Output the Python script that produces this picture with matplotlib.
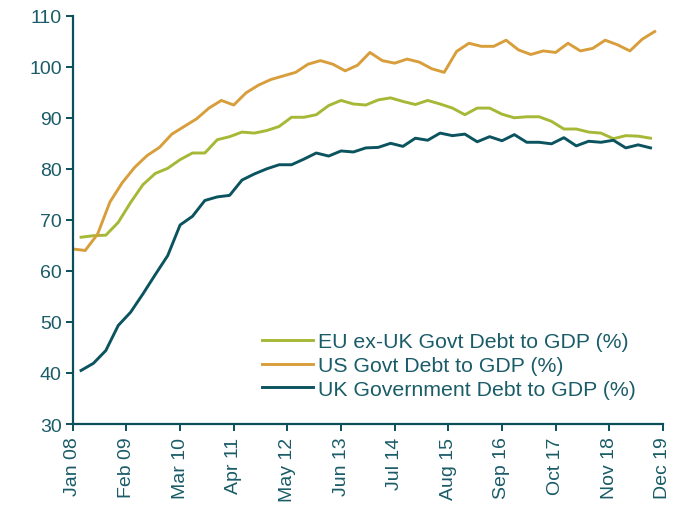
import matplotlib
matplotlib.use("Agg")
import matplotlib.pyplot as plt
import numpy as np

# x positions in months since Jan 2008 (quarterly observations)
us_months = np.arange(0, 144, 3)      # Jan 08 .. Oct 19
eu_months = np.arange(2, 143, 3)      # Mar 08 .. Sep 19

eu_values = [66.6, 66.9, 67.0, 69.5, 73.4, 76.9, 79.1, 80.1, 81.8, 83.1,
             83.1, 85.7, 86.3, 87.2, 87.0, 87.5, 88.3, 90.1, 90.1, 90.6,
             92.4, 93.4, 92.7, 92.5, 93.5, 93.9, 93.2, 92.6, 93.4, 92.7,
             91.9, 90.6, 91.9, 91.9, 90.7, 90.0, 90.2, 90.2, 89.3, 87.8,
             87.8, 87.2, 87.0, 85.9, 86.5, 86.4, 86.0]

us_values = [64.3, 64.0, 67.2, 73.5, 77.3, 80.3, 82.6, 84.2, 86.8, 88.3,
             89.8, 91.9, 93.4, 92.5, 94.9, 96.4, 97.5, 98.2, 98.9, 100.5,
             101.2, 100.5, 99.2, 100.3, 102.8, 101.2, 100.7, 101.5, 100.9, 99.6,
             98.9, 103.0, 104.6, 104.0, 104.0, 105.2, 103.3, 102.4, 103.1, 102.8,
             104.6, 103.1, 103.6, 105.2, 104.3, 103.1, 105.4, 106.9]

uk_values = [40.5, 41.9, 44.4, 49.3, 51.9, 55.5, 59.3, 63.0, 69.0, 70.7,
             73.8, 74.5, 74.8, 77.8, 79.0, 80.0, 80.8, 80.8, 81.9, 83.1,
             82.5, 83.5, 83.3, 84.1, 84.2, 85.0, 84.4, 86.0, 85.6, 87.0,
             86.5, 86.8, 85.3, 86.3, 85.5, 86.7, 85.2, 85.2, 84.9, 86.1,
             84.5, 85.4, 85.2, 85.6, 84.1, 84.7, 84.1]

tick_months = list(range(0, 144, 13))
tick_labels = ["Jan 08", "Feb 09", "Mar 10", "Apr 11", "May 12", "Jun 13",
               "Jul 14", "Aug 15", "Sep 16", "Oct 17", "Nov 18", "Dec 19"]
y_ticks = [30, 40, 50, 60, 70, 80, 90, 100, 110]

series_labels = ["EU ex-UK Govt Debt to GDP (%)",
                 "US Govt Debt to GDP (%)",
                 "UK Government Debt to GDP (%)"]

c_eu = "#A6B836"
c_us = "#D89E3C"
c_uk = "#0B535E"
axis_c = "#0B4F5A"
text_c = "#1A5C68"

plt.rcParams["font.family"] = ["Liberation Sans", "DejaVu Sans"]

fig = plt.figure(figsize=(6.83, 5.06), dpi=100)
ax = fig.add_axes([0.1066, 0.160, 0.864, 0.807])

lw = 2.1
ax.plot(eu_months, eu_values, color=c_eu, lw=lw, label=series_labels[0])
ax.plot(us_months, us_values, color=c_us, lw=lw, label=series_labels[1])
ax.plot(eu_months, uk_values, color=c_uk, lw=lw, label=series_labels[2])

ax.set_xlim(0, 143)
ax.set_ylim(30, 110)
ax.set_xticks(tick_months)
ax.set_xticklabels(tick_labels, rotation=90)
ax.set_yticks(y_ticks)

for s in ["top", "right"]:
    ax.spines[s].set_visible(False)
for s in ["left", "bottom"]:
    ax.spines[s].set_color(axis_c)
    ax.spines[s].set_linewidth(1.6)

ax.tick_params(axis="both", colors=axis_c, labelcolor=text_c, labelsize=14,
               length=5, width=1.4, direction="out")
ax.tick_params(axis="x", pad=4)
ax.tick_params(axis="y", pad=3)

leg = ax.legend(loc="upper left", bbox_to_anchor=(0.3836, 0.341),
                bbox_transform=fig.transFigure, frameon=False,
                fontsize=15.3, handlelength=2.4, handletextpad=0.25,
                labelspacing=0.22, borderpad=0, borderaxespad=0)
for t in leg.get_texts():
    t.set_color(text_c)

fig.savefig("out.png", dpi=100)
